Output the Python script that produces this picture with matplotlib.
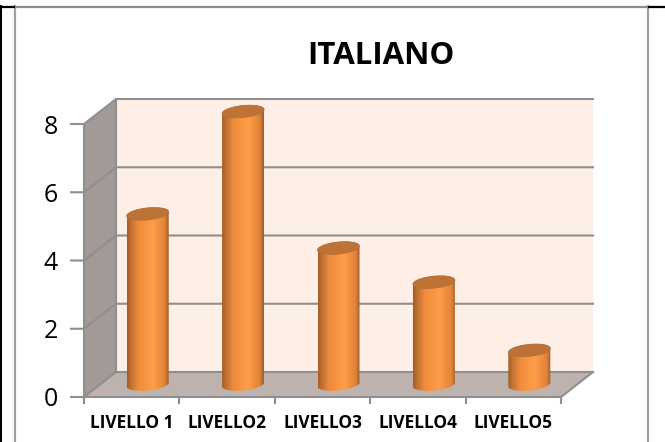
import numpy as np
import matplotlib; matplotlib.use("Agg")
import matplotlib.pyplot as plt
from matplotlib.colors import LinearSegmentedColormap
from matplotlib.lines import Line2D
from matplotlib.patches import Polygon

plt.rcParams["font.family"] = ["Open Sans", "DejaVu Sans"]

categories = ["LIVELLO 1", "LIVELLO2", "LIVELLO3", "LIVELLO4", "LIVELLO5"]
values = [5, 8, 4, 3, 1]
y_ticks = [0, 2, 4, 6, 8]

W, H = 665, 442
# pixel geometry of the fake 3d box
X0, X1 = 84, 561      # front floor edge
Y0, Y8 = 397, 124     # value 0 and value 8 on the front edge
DX_PX, DY_PX = 32, 25 # depth of the box
BAR_W, ELL_H, TILT = 42, 12, 4

GRID = "#8F8F8F"
cyl = LinearSegmentedColormap.from_list("cyl", [(0, "#A05C28"), (0.07, "#B96D30"), (0.28, "#F08C3C"),
                                                (0.62, "#FF9E48"), (0.90, "#E08438"), (1, "#A05C28")])

fig = plt.figure(figsize=(W/100, H/100), dpi=100)
ax = fig.add_axes([0, 0, 1, 1])
sx = (X1-X0)/len(categories); sy = (Y0-Y8)/8
xlim = (-X0/sx, (W-X0)/sx); ylim = ((Y0-H)/sy, Y0/sy)
dx, dy = DX_PX/sx, DY_PX/sy
n = len(categories); top = y_ticks[-1]

# walls and floor
ax.add_patch(Polygon([(dx, dy), (n+dx, dy), (n+dx, top+dy), (dx, top+dy)], fc="#FDEEE6", ec="none", zorder=1))
ax.add_patch(Polygon([(0, 0), (dx, dy), (dx, top+dy), (0, top)], fc="#A19A96", ec="none", zorder=1))
ax.add_patch(Polygon([(0, 0), (n, 0), (n+dx, dy), (dx, dy)], fc="#BDB2AE", ec="none", zorder=1))

lw = 1.5
for t in y_ticks:
    ax.plot([-13/sx, 0, dx, n+dx], [t, t, t+dy, t+dy], color=GRID, lw=lw, zorder=2, solid_joinstyle="miter")
    ax.text(-26/sx, t, str(t), ha="right", va="center_baseline", fontsize=18, color="black", zorder=5)
ax.plot([0, 0], [0, top], color=GRID, lw=lw, zorder=2)
ax.plot([dx, dx], [0+dy, top+dy], color=GRID, lw=lw, zorder=2)
ax.plot([0, n, n+dx], [0, 0, dy], color=GRID, lw=lw, zorder=2)
for i in range(n+1):
    ax.plot([i, i], [0, -6/sy], color=GRID, lw=lw, zorder=2)

# cylinders
t = np.linspace(0, np.pi, 40)
rx, ry, tl = BAR_W/2/sx, ELL_H/2/sy, TILT/2/sy
for i, (name, v) in enumerate(zip(categories, values)):
    cx = i+0.5+dx/2
    base, head = dy/2, v+dy/2
    xs = cx+rx*np.cos(t)
    tilt = tl*np.cos(t)
    # outline: upper half of the top ellipse's rim back down the lower half of the base
    front_top = head-ry*np.sin(t)+tilt
    front_base = base-ry*np.sin(t)+tilt
    outline = np.column_stack([np.r_[xs, xs[::-1]], np.r_[front_base, front_top[::-1]]])
    body = Polygon(outline, fc="none", ec="none", zorder=3)
    ax.add_patch(body)
    im = ax.imshow(np.linspace(0, 1, 128)[None, :], cmap=cyl, aspect="auto", zorder=3,
                   extent=(cx-rx, cx+rx, base-2*ry, head+2*ry), interpolation="bilinear")
    im.set_clip_path(body)
    th = np.linspace(0, 2*np.pi, 80)
    cap = np.column_stack([cx+rx*np.cos(th), head+ry*np.sin(th)+tl*np.cos(th)])
    ax.add_patch(Polygon(cap, fc="#BE7236", ec="#A9652F", lw=0.5, zorder=4))
    ax.text(i+0.5, -26/sy, name, ha="center", va="center", fontsize=12.4, fontweight="bold", color="black")

ax.text((381-X0)/sx, (Y0-56)/sy, "ITALIANO", ha="center", va="center", fontsize=22.5, fontweight="bold", color="black")

ax.set_xlim(*xlim); ax.set_ylim(*ylim)
ax.axis("off")

# page table borders around the chart
def px_line(xs, ys, color, width):
    fig.add_artist(Line2D([x/W for x in xs], [1-y/H for y in ys], color=color, lw=width))
px_line([14, 648], [7, 7], "#8C8C8C", 1.6)
px_line([15, 15], [6, H], "#A0A0A0", 1.6)
px_line([648, 648], [6, H], "#A0A0A0", 1.6)
px_line([0, 14], [7, 7], "black", 1.6)
px_line([649, W], [7, 7], "black", 1.6)
px_line([0.5, 0.5], [6, H], "black", 1.5)

fig.savefig("out.png", dpi=100)
